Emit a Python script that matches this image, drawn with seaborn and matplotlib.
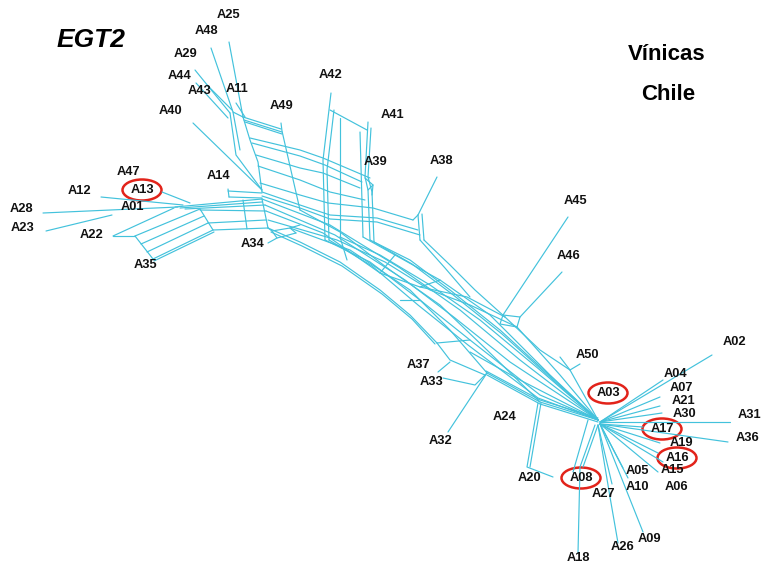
import matplotlib
matplotlib.use("Agg")
import matplotlib.pyplot as plt
from matplotlib.patches import Ellipse
import seaborn as sns
import pandas as pd

# ---------------------------------------------------------------------------
# Split network (NeighborNet-style) for the EGT2 marker, wine isolates from Chile.
# Coordinates are in drawing units (x to the right, y downwards).
# ---------------------------------------------------------------------------

# Taxon labels and where they are written
taxa = ["A25", "A48", "A29", "A44", "A43", "A11", "A40", "A49", "A42", "A41",
        "A39", "A38", "A45", "A46", "A47", "A13", "A12", "A14", "A01", "A28",
        "A23", "A22", "A35", "A34", "A37", "A33", "A24", "A32", "A50", "A02",
        "A04", "A07", "A21", "A30", "A31", "A17", "A36", "A19", "A16", "A15",
        "A06", "A05", "A10", "A27", "A20", "A08", "A09", "A26", "A18", "A03"]
label_x = [228, 206, 186, 180, 200, 237, 170, 282, 331, 392,
           376, 441, 575, 569, 128, 142, 79, 218, 132, 21,
           23, 92, 145, 253, 418, 432, 505, 441, 587, 734,
           675, 681, 683, 684, 749, 662, 748, 681, 677, 672,
           676, 637, 637, 603, 529, 581, 649, 623, 578, 608]
label_y = [15, 31, 54, 76, 91, 89, 111, 106, 75, 115,
           162, 161, 201, 256, 172, 190, 191, 176, 207, 209,
           228, 235, 265, 244, 365, 382, 417, 441, 355, 342,
           374, 388, 401, 414, 415, 429, 438, 443, 458, 470,
           487, 471, 487, 494, 478, 478, 539, 547, 558, 393]

# Isolates highlighted with a red ring
highlighted = ["A13", "A03", "A17", "A16", "A08"]

# Edges of the splits graph, as polylines of node positions
left_cluster = [
    [(43, 213), (178, 207)],                      # A28
    [(46, 231), (112, 215)],                      # A23
    [(101, 197), (183, 205)],                     # A12
    [(162, 192), (190, 203)],                     # A13
    [(113, 236), (174, 208)],                     # A22
    [(113, 236), (135, 236)],
    [(135, 236), (153, 259)],
    [(135, 236), (200, 209)],
    [(141, 244), (204, 216)],
    [(147, 252), (208, 223)],
    [(153, 259), (213, 230)],                     # A35
    [(154, 261), (214, 232)],
    [(200, 209), (213, 230)],
    [(175, 207), (262, 199)],
    [(180, 208), (262, 202)],
    [(185, 209), (265, 205)],
    [(200, 210), (266, 211)],
    [(208, 223), (266, 220)],
    [(213, 230), (268, 228)],
    [(243, 200), (247, 229)],
    [(262, 199), (268, 228)],
    [(228, 189), (229, 197)],                     # A14
    [(228, 191), (262, 193)],
    [(229, 197), (262, 198)],
    [(268, 243), (277, 238), (296, 233)],         # A34
    [(268, 228), (272, 231), (277, 238)],
    [(272, 231), (290, 228), (296, 233)],
    [(290, 228), (300, 225)],
]

upper_box = [
    [(229, 42), (243, 117)],                      # A25
    [(211, 48), (233, 112), (240, 150)],          # A48
    [(195, 70), (230, 113)],                      # A29
    [(196, 83), (228, 118)],                      # A44
    [(207, 85), (232, 110)],                      # A43
    [(236, 103), (245, 117)],                     # A11
    [(193, 123), (262, 190)],                     # A40
    [(230, 113), (236, 155), (262, 190)],
    [(243, 117), (250, 140), (258, 162), (262, 192)],
    [(233, 112), (243, 117)],
    [(243, 117), (281, 129)],
    [(244, 120), (282, 132)],
    [(245, 122), (282, 134)],
    [(281, 123), (282, 131), (300, 210)],         # A49
    [(250, 138), (300, 150), (323, 158), (370, 178)],
    [(252, 143), (300, 156), (325, 165), (362, 182)],
    [(256, 155), (300, 168), (323, 173), (360, 188)],
    [(258, 166), (300, 180), (330, 192), (365, 200)],
    [(260, 183), (300, 195), (328, 203), (373, 208), (413, 220)],
    [(262, 192), (300, 205), (330, 215), (377, 218), (418, 230)],
    [(262, 196), (300, 208), (330, 219), (377, 222), (420, 235)],
]

middle_block = [
    [(331, 93), (323, 160), (325, 240)],          # A42
    [(334, 110), (327, 170), (329, 240)],
    [(330, 110), (367, 130)],
    [(340, 118), (340, 237)],
    [(360, 132), (363, 237)],
    [(368, 122), (365, 177), (368, 190), (370, 240)],   # A41
    [(371, 128), (368, 177), (372, 192), (374, 242)],
    [(365, 178), (373, 185), (372, 195)],              # A39
    [(368, 190), (373, 185)],
    [(437, 177), (418, 215)],                     # A38
    [(418, 215), (420, 240)],
    [(422, 214), (424, 240)],
    [(413, 220), (418, 215)],
]

lower_band = [
    [(262, 199), (330, 225), (400, 268), (460, 310), (520, 360), (598, 420)],
    [(265, 205), (335, 235), (405, 280), (455, 318), (510, 362), (598, 420)],
    [(266, 211), (323, 233), (380, 273), (420, 287), (467, 297), (505, 317)],
    [(268, 220), (337, 240), (385, 262), (430, 290), (470, 305), (517, 327)],
    [(268, 228), (300, 242), (340, 262), (380, 290), (410, 315), (437, 343)],
    [(271, 232), (302, 246), (342, 266), (382, 294), (412, 319), (435, 344)],
    [(290, 228), (350, 250), (410, 290), (450, 330), (487, 373)],
    [(300, 210), (340, 232), (390, 270), (440, 305), (487, 350), (540, 402)],
    [(325, 240), (370, 262), (420, 300), (470, 340), (540, 395), (598, 420)],
    [(329, 240), (372, 266), (418, 305), (468, 345), (538, 398), (598, 420)],
    [(340, 237), (380, 255), (430, 285), (480, 320), (540, 370), (598, 420)],
    [(363, 237), (395, 255), (440, 280), (490, 315), (550, 375), (598, 420)],
    [(370, 240), (410, 260), (450, 290), (500, 330), (560, 385), (598, 420)],
    [(374, 242), (412, 264), (452, 294), (502, 334), (562, 388), (598, 420)],
    [(424, 240), (450, 265), (475, 290), (505, 317)],
    [(420, 240), (445, 268), (470, 297)],
    [(505, 317), (540, 350), (570, 370), (598, 420)],
    [(517, 327), (560, 375), (598, 420)],
    [(487, 373), (540, 402), (598, 420)],
    [(487, 375), (540, 404), (598, 422)],
    [(486, 371), (540, 400), (598, 418)],
    [(470, 352), (520, 380), (598, 420)],
    [(380, 273), (395, 255)],
    [(420, 287), (440, 280)],
    [(347, 260), (340, 237)],
    [(400, 300), (420, 300)],
    [(437, 343), (450, 360), (485, 375)],          # A37 / A33 block
    [(437, 343), (470, 340)],
    [(438, 372), (450, 362)],
    [(443, 378), (475, 385), (487, 373)],
    [(487, 373), (448, 432)],                     # A32
    [(568, 217), (503, 315)],                     # A45
    [(562, 272), (520, 317)],                     # A46
    [(503, 315), (520, 317), (517, 327), (500, 324), (503, 315)],
    [(560, 357), (570, 370)],                     # A50
    [(570, 370), (580, 364)],
]

right_fan = [
    [(538, 403), (527, 467), (553, 477)],         # A20
    [(541, 403), (530, 467)],
    [(598, 425), (583, 467)],                     # A08
    [(595, 425), (580, 467), (578, 553)],         # A18
    [(588, 420), (573, 472)],
    [(600, 424), (643, 532)],                     # A09
    [(598, 425), (610, 497), (618, 543)],         # A26
    [(598, 425), (612, 484)],                     # A27
    [(600, 424), (623, 468)],                     # A05
    [(600, 424), (628, 478)],                     # A10
    [(600, 424), (658, 472)],                     # A06
    [(600, 424), (663, 462)],                     # A15
    [(600, 424), (658, 453)],                     # A16
    [(600, 424), (660, 443)],                     # A19
    [(600, 424), (728, 442)],                     # A36
    [(600, 424), (643, 427)],                     # A17
    [(600, 422), (730, 422)],                     # A31
    [(600, 422), (662, 413)],                     # A30
    [(600, 422), (660, 406)],                     # A21
    [(600, 422), (660, 397)],                     # A07
    [(600, 422), (663, 380)],                     # A04
    [(600, 422), (712, 355)],                     # A02
]

paths = left_cluster + upper_box + middle_block + lower_band + right_fan

rows = []
for k, path in enumerate(paths):
    for order, (px, py) in enumerate(path):
        rows.append({"edge": k, "order": order, "x": px, "y": py})
edges = pd.DataFrame(rows)

sns.set_theme(style="white")
plt.rcParams["font.family"] = ["Liberation Sans", "DejaVu Sans"]

fig = plt.figure(figsize=(7.63, 5.70), dpi=100)
ax = fig.add_axes([0, 0, 1, 1])

sns.lineplot(data=edges, x="x", y="y", units="edge", estimator=None, sort=False,
             color="#43c2dc", linewidth=0.85, legend=False, ax=ax)

for name, lx, ly in zip(taxa, label_x, label_y):
    ax.text(lx, ly, name, ha="center", va="center", fontsize=9.3,
            fontweight="bold", color="#111111")
    if name in highlighted:
        ax.add_patch(Ellipse((lx, ly), 39, 21, fill=False,
                             edgecolor="#e2231a", linewidth=1.8))

ax.text(91, 40, "EGT2", ha="center", va="center", fontsize=19,
        fontweight="bold", fontstyle="italic", color="black")
ax.text(667, 55, "Vínicas", ha="center", va="center", fontsize=16,
        fontweight="bold", color="black")
ax.text(668, 94, "Chile", ha="center", va="center", fontsize=16,
        fontweight="bold", color="black")

ax.set_xlim(0, 763)
ax.set_ylim(570, 0)
ax.axis("off")

fig.savefig("out.png", dpi=100, facecolor="white")
